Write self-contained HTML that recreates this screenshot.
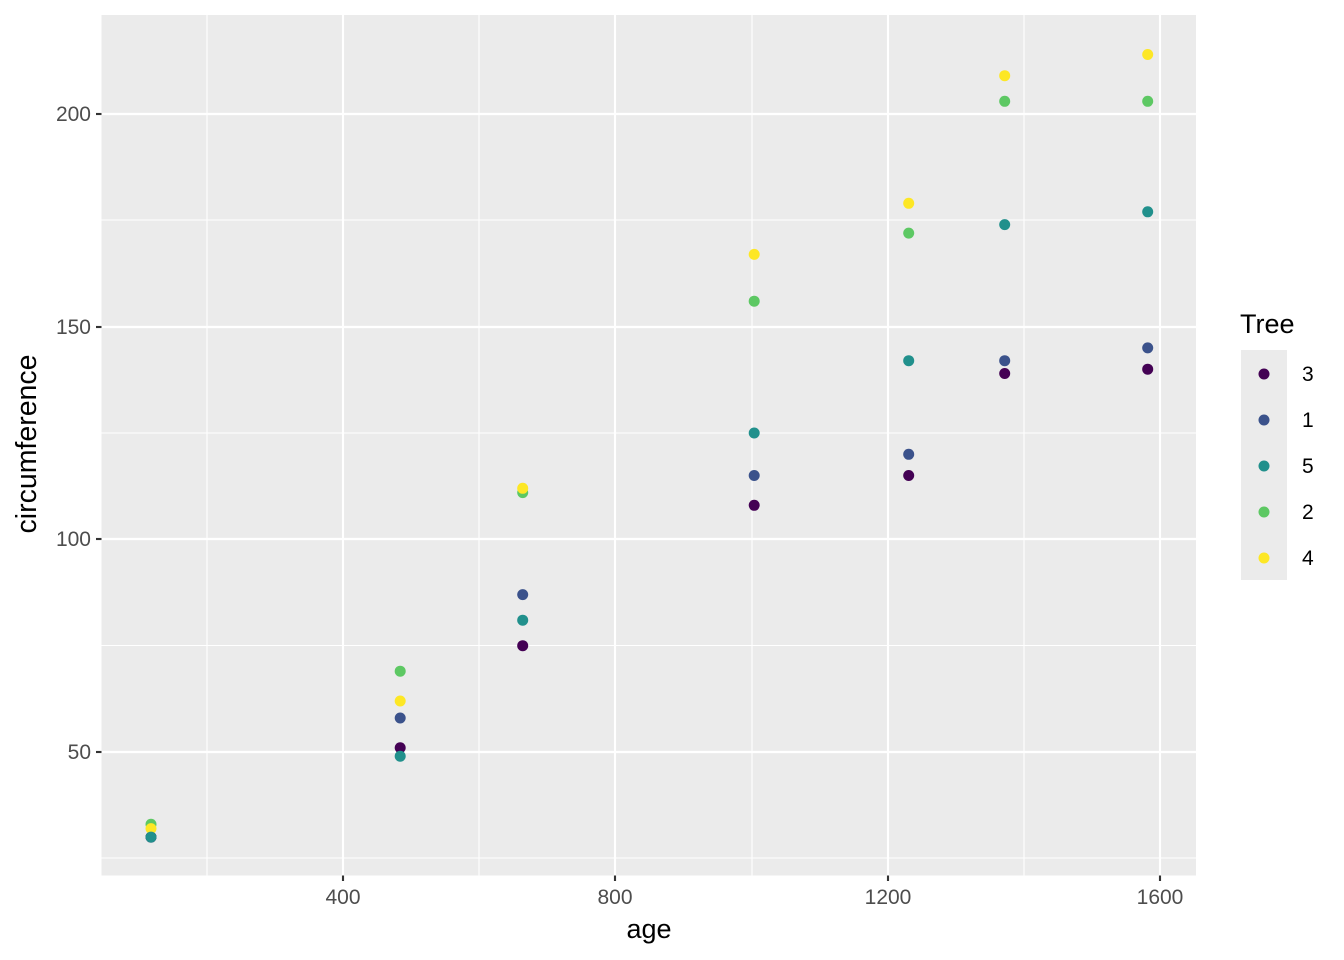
<!DOCTYPE html>
<html><head><meta charset="utf-8"><style>body{margin:0;background:#fff}svg{display:block}text{font-family:"Liberation Sans",Arial,sans-serif}</style></head><body>
<svg width="1344" height="960" viewBox="0 0 1344 960" xmlns="http://www.w3.org/2000/svg">
<rect x="101.5" y="15" width="1094.5" height="860.5" fill="#EBEBEB"/>
<g stroke="#fff" stroke-width="1.07">
<line x1="207" x2="207" y1="15" y2="875.5"/><line x1="479" x2="479" y1="15" y2="875.5"/><line x1="752" x2="752" y1="15" y2="875.5"/><line x1="1024" x2="1024" y1="15" y2="875.5"/>
<line x1="101.5" x2="1196" y1="858" y2="858"/><line x1="101.5" x2="1196" y1="645.5" y2="645.5"/><line x1="101.5" x2="1196" y1="433" y2="433"/><line x1="101.5" x2="1196" y1="220" y2="220"/>
</g>
<g stroke="#fff" stroke-width="2.13">
<line x1="343" x2="343" y1="15" y2="875.5"/><line x1="615" x2="615" y1="15" y2="875.5"/><line x1="888" x2="888" y1="15" y2="875.5"/><line x1="1160" x2="1160" y1="15" y2="875.5"/>
<line x1="101.5" x2="1196" y1="752" y2="752"/><line x1="101.5" x2="1196" y1="539" y2="539"/><line x1="101.5" x2="1196" y1="327" y2="327"/><line x1="101.5" x2="1196" y1="114" y2="114"/>
</g>
<g stroke="#333" stroke-width="2.13">
<line x1="343" x2="343" y1="875.5" y2="881"/><line x1="615" x2="615" y1="875.5" y2="881"/><line x1="888" x2="888" y1="875.5" y2="881"/><line x1="1160" x2="1160" y1="875.5" y2="881"/>
<line x1="96" x2="101.5" y1="752" y2="752"/><line x1="96" x2="101.5" y1="539" y2="539"/><line x1="96" x2="101.5" y1="327" y2="327"/><line x1="96" x2="101.5" y1="114" y2="114"/>
</g>
<g fill="#4D4D4D" font-size="21" text-anchor="middle">
<text x="343" y="904">400</text><text x="615" y="904">800</text><text x="888" y="904">1200</text><text x="1160" y="904">1600</text>
</g>
<g fill="#4D4D4D" font-size="21" text-anchor="end">
<text x="91" y="759">50</text><text x="91" y="546">100</text><text x="91" y="334">150</text><text x="91" y="121">200</text>
</g>
<text x="649" y="938" font-size="27" text-anchor="middle">age</text>
<text transform="translate(36,444) rotate(-90)" font-size="28.5" text-anchor="middle">circumference</text>
<g>
<g fill="#3B528B"><circle cx="151" cy="837.1" r="5.5"/><circle cx="400.2" cy="718" r="5.5"/><circle cx="522.7" cy="594.6" r="5.5"/><circle cx="754.2" cy="475.5" r="5.5"/><circle cx="908.7" cy="454.3" r="5.5"/><circle cx="1004.7" cy="360.7" r="5.5"/><circle cx="1147.7" cy="347.9" r="5.5"/></g>
<g fill="#5DC863"><circle cx="151" cy="824.3" r="5.5"/><circle cx="400.2" cy="671.2" r="5.5"/><circle cx="522.7" cy="492.6" r="5.5"/><circle cx="754.2" cy="301.2" r="5.5"/><circle cx="908.7" cy="233.1" r="5.5"/><circle cx="1004.7" cy="101.3" r="5.5"/><circle cx="1147.7" cy="101.3" r="5.5"/></g>
<g fill="#440154"><circle cx="151" cy="837.1" r="5.5"/><circle cx="400.2" cy="747.8" r="5.5"/><circle cx="522.7" cy="645.7" r="5.5"/><circle cx="754.2" cy="505.3" r="5.5"/><circle cx="908.7" cy="475.5" r="5.5"/><circle cx="1004.7" cy="373.5" r="5.5"/><circle cx="1147.7" cy="369.2" r="5.5"/></g>
<g fill="#FDE725"><circle cx="151" cy="828.6" r="5.5"/><circle cx="400.2" cy="701" r="5.5"/><circle cx="522.7" cy="488.3" r="5.5"/><circle cx="754.2" cy="254.4" r="5.5"/><circle cx="908.7" cy="203.3" r="5.5"/><circle cx="1004.7" cy="75.7" r="5.5"/><circle cx="1147.7" cy="54.5" r="5.5"/></g>
<g fill="#21908C"><circle cx="151" cy="837.1" r="5.5"/><circle cx="400.2" cy="756.2" r="5.5"/><circle cx="522.7" cy="620.2" r="5.5"/><circle cx="754.2" cy="433" r="5.5"/><circle cx="908.7" cy="360.7" r="5.5"/><circle cx="1004.7" cy="224.6" r="5.5"/><circle cx="1147.7" cy="211.8" r="5.5"/></g>
</g>
<text x="1240" y="333" font-size="27">Tree</text>
<rect x="1241" y="350" width="46" height="230" fill="#EBEBEB"/>
<circle cx="1264" cy="374" r="5.5" fill="#440154"/>
<circle cx="1264" cy="420" r="5.5" fill="#3B528B"/>
<circle cx="1264" cy="466" r="5.5" fill="#21908C"/>
<circle cx="1264" cy="512" r="5.5" fill="#5DC863"/>
<circle cx="1264" cy="558" r="5.5" fill="#FDE725"/>
<g font-size="21" fill="#000">
<text x="1302" y="381">3</text><text x="1302" y="427">1</text><text x="1302" y="473">5</text><text x="1302" y="519">2</text><text x="1302" y="565">4</text>
</g>
</svg>
</body></html>
